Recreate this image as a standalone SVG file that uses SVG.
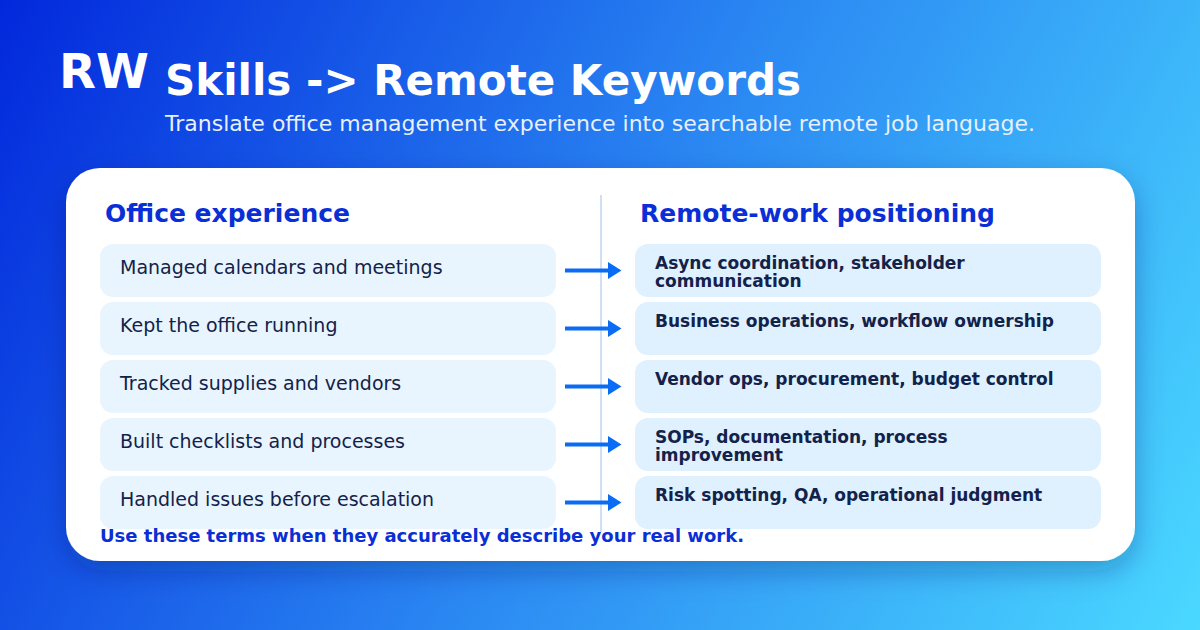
<svg xmlns="http://www.w3.org/2000/svg" width="1200" height="630" viewBox="0 0 1200 630">
<defs>
<linearGradient id="bg" x1="0" y1="0" x2="1200" y2="630" gradientUnits="userSpaceOnUse">
<stop offset="0" stop-color="#0228dc"/>
<stop offset="0.5" stop-color="#2a86f2"/>
<stop offset="1" stop-color="#4ad8ff"/>
</linearGradient>
<filter id="sh" x="-10%" y="-10%" width="120%" height="130%">
<feDropShadow dx="0" dy="10" stdDeviation="14" flood-color="#001a66" flood-opacity="0.3"/>
</filter>
<marker id="ah" markerWidth="14" markerHeight="17" refX="0" refY="8.5" orient="auto" markerUnits="userSpaceOnUse">
<path d="M0,0 L13.5,8.5 L0,17 Z" fill="#0a6cf5"/>
</marker>
<style>
.t{font-family:"DejaVu Sans",sans-serif}
.hd{font-family:"DejaVu Sans",sans-serif;font-weight:bold;font-size:25px;fill:#0a2fd6}
.lb{fill:#e8f5fe}
.rb{fill:#dff0fe}
.lt{font-family:"DejaVu Sans",sans-serif;font-size:19px;fill:#13224a}
.rt{font-family:"DejaVu Sans",sans-serif;font-weight:bold;font-size:17px;fill:#13224a}
.ar{stroke:#0a6cf5;stroke-width:4;fill:none}
</style>
</defs>
<rect width="1200" height="630" fill="url(#bg)"/>
<text class="t" x="59" y="88" font-size="48" font-weight="bold" fill="#ffffff">RW</text>
<text class="t" x="165" y="95" font-size="42" font-weight="bold" fill="#ffffff">Skills -&gt; Remote Keywords</text>
<text class="t" x="165" y="131" font-size="22" fill="#e6f0ff">Translate office management experience into searchable remote job language.</text>
<rect x="66" y="168" width="1069" height="393" rx="34" fill="#ffffff" filter="url(#sh)"/>
<line x1="601" y1="195" x2="601" y2="532" stroke="#cfe0f5" stroke-width="2"/>
<text class="hd" x="105" y="222">Office experience</text>
<text class="hd" x="640" y="222">Remote-work positioning</text>
<g id="left1"><rect class="lb" x="100" y="244" width="456" height="53" rx="13"/><text class="lt" x="120" y="274">Managed calendars and meetings</text></g>
<g id="left2"><rect class="lb" x="100" y="302" width="456" height="53" rx="13"/><text class="lt" x="120" y="332">Kept the office running</text></g>
<g id="left3"><rect class="lb" x="100" y="360" width="456" height="53" rx="13"/><text class="lt" x="120" y="390">Tracked supplies and vendors</text></g>
<g id="left4"><rect class="lb" x="100" y="418" width="456" height="53" rx="13"/><text class="lt" x="120" y="448">Built checklists and processes</text></g>
<g id="left5"><rect class="lb" x="100" y="476" width="456" height="53" rx="13"/><text class="lt" x="120" y="506">Handled issues before escalation</text></g>
<g id="right1"><rect class="rb" x="635" y="244" width="466" height="53" rx="13"/><text class="rt" x="655" y="269">Async coordination, stakeholder</text><text class="rt" x="655" y="287">communication</text></g>
<g id="right2"><rect class="rb" x="635" y="302" width="466" height="53" rx="13"/><text class="rt" x="655" y="327">Business operations, workflow ownership</text></g>
<g id="right3"><rect class="rb" x="635" y="360" width="466" height="53" rx="13"/><text class="rt" x="655" y="385">Vendor ops, procurement, budget control</text></g>
<g id="right4"><rect class="rb" x="635" y="418" width="466" height="53" rx="13"/><text class="rt" x="655" y="443">SOPs, documentation, process</text><text class="rt" x="655" y="461">improvement</text></g>
<g id="right5"><rect class="rb" x="635" y="476" width="466" height="53" rx="13"/><text class="rt" x="655" y="501">Risk spotting, QA, operational judgment</text></g>
<g id="connectors">
<line class="ar" x1="565" y1="270.5" x2="608" y2="270.5" marker-end="url(#ah)"/>
<line class="ar" x1="565" y1="328.5" x2="608" y2="328.5" marker-end="url(#ah)"/>
<line class="ar" x1="565" y1="386.5" x2="608" y2="386.5" marker-end="url(#ah)"/>
<line class="ar" x1="565" y1="444.5" x2="608" y2="444.5" marker-end="url(#ah)"/>
<line class="ar" x1="565" y1="502.5" x2="608" y2="502.5" marker-end="url(#ah)"/>
</g>
<text class="t" x="100" y="542" font-size="18" font-weight="bold" fill="#0a2fd6">Use these terms when they accurately describe your real work.</text>
</svg>
